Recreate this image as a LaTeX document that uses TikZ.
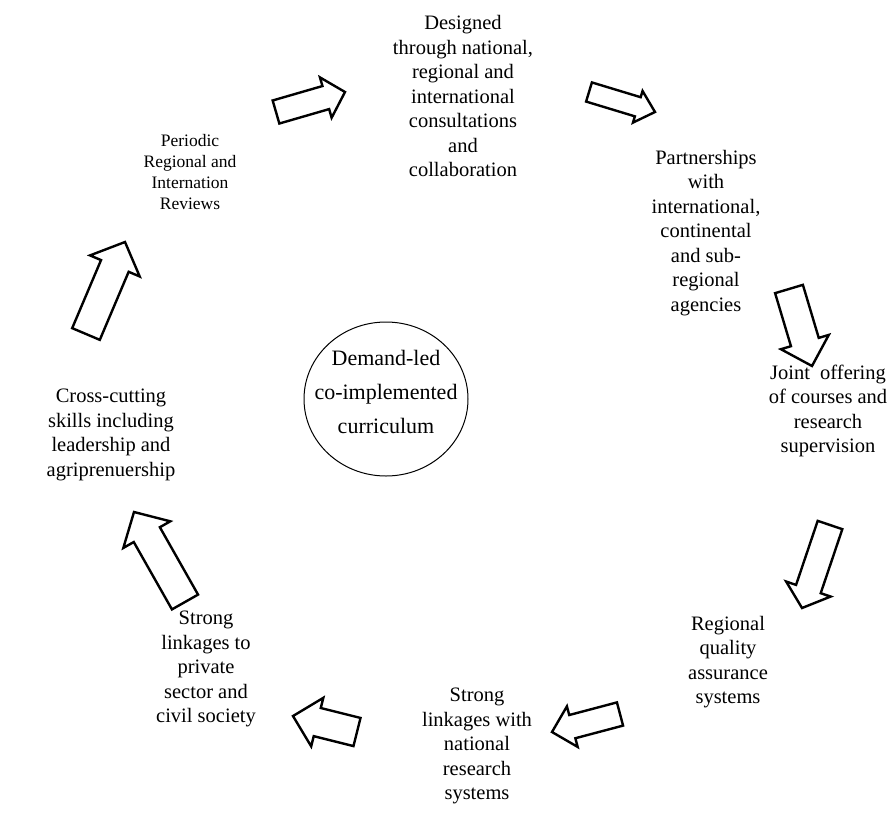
\documentclass[tikz,border=0pt]{standalone}
\usepackage{fontspec}
\setmainfont{Liberation Serif}
\usetikzlibrary{calc}
\tikzset{
  lbl/.style={align=center, font=\fontsize{20.5}{24.5}\selectfont, inner sep=0pt},
  smalllbl/.style={align=center, font=\fontsize{17.5}{21}\selectfont, inner sep=0pt},
  centretext/.style={align=center, inner sep=0pt, font=\fontsize{22}{34}\selectfont},
  centreline/.style={draw=black, line width=1pt},
  blk/.style={draw=black, line width=2.4pt, fill=white, line join=miter},
}
% #1 name, #2 tail, #3 tip, #4 shaft half width, #5 head half width, #6 head length
\newcommand\blockarrow[6]{%
  \coordinate (#1h) at ($(#3)!#6!(#2)$);
  \draw[blk] ($(#2)!#4!90:(#3)$) -- ($(#1h)!#4!90:(#3)$) -- ($(#1h)!#5!90:(#3)$)
    -- (#3) -- ($(#1h)!#5!-90:(#3)$) -- ($(#1h)!#4!-90:(#3)$) -- ($(#2)!#4!-90:(#3)$) -- cycle;
}
\begin{document}
\begin{tikzpicture}[x=1pt,y=-1pt]
\useasboundingbox (0,0) rectangle (889,830);

\node[lbl] (n1) at (463,96) {Designed\\through national,\\regional and\\international\\consultations\\and\\collaboration};
\node[lbl] (n2) at (706,233) {Partnerships\\with\\international,\\continental\\and sub-\\regional\\agencies};
\node[lbl] (n3) at (828,411) {Joint\ \ offering\\of courses and\\research\\supervision};
\node[lbl] (n4) at (728,662) {Regional\\quality\\assurance\\systems};
\node[lbl] (n5) at (477,746) {Strong\\linkages with\\national\\research\\systems};
\node[lbl] (n6) at (206,669) {Strong\\linkages to\\private\\sector and\\civil society};
\node[lbl] (n7) at (111,435) {Cross-cutting\\skills including\\leadership and\\agriprenuership};
\node[smalllbl] (n8) at (190,172) {Periodic\\Regional and\\Internation\\Reviews};
\node[centretext] (c) at (386,392) {Demand-led\\co-implemented\\curriculum};
\draw[centreline] (386,399) ellipse [x radius=82pt, y radius=77pt];

\coordinate (a1t) at (276,112); \coordinate (a1p) at (345,92);
\coordinate (a2t) at (589,92);  \coordinate (a2p) at (655,112);
\coordinate (a3t) at (789,289); \coordinate (a3p) at (812,366);
\coordinate (a4t) at (830,525); \coordinate (a4p) at (802,608);
\coordinate (a5t) at (620,714); \coordinate (a5p) at (552,732);
\coordinate (a6t) at (357,732); \coordinate (a6p) at (293,716);
\coordinate (a7t) at (185,602); \coordinate (a7p) at (134,512);
\coordinate (a8t) at (86,334);  \coordinate (a8p) at (125,242);

\blockarrow{a1}{a1t}{a1p}{12pt}{21pt}{20pt}
\blockarrow{a2}{a2t}{a2p}{10pt}{16.5pt}{18pt}
\blockarrow{a3}{a3t}{a3p}{14.5pt}{25pt}{25pt}
\blockarrow{a4}{a4t}{a4p}{13pt}{23.5pt}{20pt}
\blockarrow{a5}{a5t}{a5p}{12pt}{21pt}{21pt}
\blockarrow{a6}{a6t}{a6p}{14.5pt}{25pt}{25pt}
\blockarrow{a7}{a7t}{a7p}{15pt}{27pt}{26pt}
\blockarrow{a8}{a8t}{a8p}{15pt}{27pt}{26pt}
\end{tikzpicture}
\end{document}
